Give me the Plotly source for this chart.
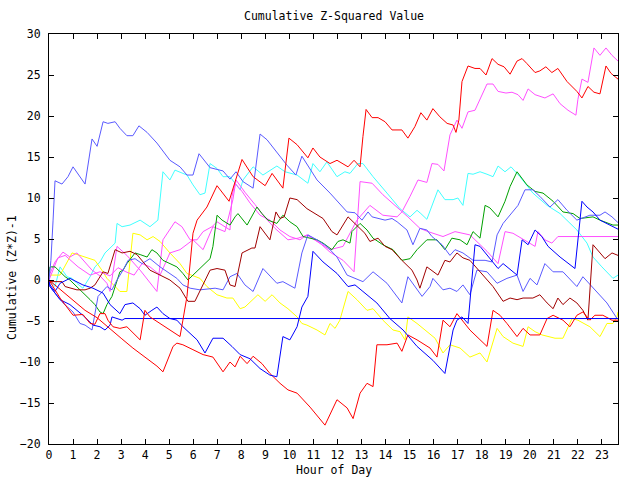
import plotly.graph_objects as go

# ---- data: (hour, cumulative value) pairs ----
hours = list(range(24))

red_a = [(0,0),(0.46,-2.2),(1.0,-4.3),(1.41,-4.2),(1.71,-5.3),(1.91,-5.4),(2.12,-4.1),(2.33,-4.1),(2.45,-4.9),(2.66,-5.7),(2.95,-5.9),(3.24,-5.7),(3.79,-7.3),(3.99,-3.7),(4.2,-4.5),(4.62,-5.3),(5.03,-6.1),(5.45,-6.9),(5.57,-4.9),(5.74,-2.0),(5.99,5.7),(6.16,7.3),(6.57,8.9),(6.99,11.5),(7.49,9.6),(7.95,14.1),(8.03,14.7),(8.49,12.6),(8.99,11.5),(9.28,13.0),(9.73,11.2),(9.98,17.3),(10.32,16.5),(10.77,14.9),(10.98,16.1),(11.27,15.0),(11.69,14.2),(11.98,14.6),(12.44,13.8),(12.69,14.6),(12.94,13.8),(13.06,17.5),(13.19,20.8),(13.44,19.8),(13.69,19.8),(13.98,19.3),(14.27,18.3),(14.68,18.3),(14.93,17.3),(15.22,18.7),(15.47,20.4),(15.72,19.5),(15.97,20.9),(16.26,19.9),(16.56,19.1),(16.81,18.9),(16.93,18.0),(17.05,19.5),(17.18,24.2),(17.43,26.1),(17.72,25.8),(17.93,25.8),(18.18,25.0),(18.43,27.0),(18.68,26.3),(18.93,26.0),(19.18,25.1),(19.47,26.7),(19.68,27.0),(19.88,26.4),(20.22,25.3),(20.42,25.5),(20.67,26.0),(20.92,25.3),(21.17,25.8),(21.55,24.2),(21.96,23.0),(22.17,22.2),(22.42,23.6),(22.67,22.9),(22.92,22.7),(23.17,26.1),(23.38,25.2),(23.67,24.5)]

red_b = [(0,0),(0.5,-1.2),(1.0,-2.4),(1.5,-3.7),(2.0,-4.6),(2.5,-5.9),(3.0,-7.1),(3.49,-8.3),(3.99,-9.4),(4.49,-10.5),(4.74,-11.2),(5.16,-8.1),(5.32,-7.7),(5.57,-7.9),(5.99,-8.5),(6.41,-9.1),(6.82,-9.4),(7.24,-11.2),(7.53,-10.0),(7.74,-10.6),(7.95,-9.3),(8.24,-10.2),(8.49,-9.3),(8.86,-10.2),(9.19,-11.4),(9.61,-12.6),(9.94,-13.4),(10.32,-13.8),(10.86,-15.5),(11.48,-17.7),(11.98,-14.6),(12.4,-15.6),(12.65,-16.9),(12.94,-13.8),(13.23,-12.6),(13.48,-13.0),(13.64,-7.9),(14.06,-7.9),(14.48,-7.7),(14.68,-8.7),(14.93,-6.7),(15.31,-7.3),(15.85,-8.3),(16.14,-9.4),(16.39,-4.9),(16.68,-5.7),(16.97,-4.1),(17.18,-4.9),(17.51,-6.1),(18.22,-8.1),(18.47,-3.7),(18.76,-4.3),(19.05,-5.3),(19.47,-6.9),(19.72,-5.9),(20.01,-6.7),(20.42,-6.7),(20.72,-4.7),(20.97,-4.3),(21.38,-4.9),(21.67,-5.7),(21.96,-4.3),(22.21,-3.9),(22.5,-4.9),(22.71,-4.3),(23.04,-4.3),(23.42,-4.9),(23.67,-4.9)]

darkred_a = [(0,-0.2),(0.54,-0.2),(0.67,-0.8),(1.16,-1.2),(1.5,-1.2),(1.71,-1.0),(1.91,-0.6),(2.25,1.0),(2.45,0.8),(2.75,3.7),(3.04,3.3),(3.37,3.5),(3.66,3.1),(4.2,1.2),(4.62,0.6),(5.03,0.0),(5.45,-1.0),(5.78,-2.6),(6.07,-2.6),(6.41,-0.6),(6.7,1.2),(6.99,1.4),(7.32,1.2),(7.53,-0.6),(7.74,-0.8),(8.03,3.3),(8.44,3.9),(8.57,3.9),(8.78,6.5),(9.19,4.9),(9.44,8.3),(9.61,7.5),(9.78,7.7),(10.02,10.0),(10.32,9.8),(10.73,8.7),(11.15,7.9),(11.4,7.5),(11.77,5.9),(11.98,5.5),(12.44,7.7),(12.81,6.7),(13.14,5.7),(13.35,4.7),(13.69,5.1),(13.98,4.1),(14.27,3.7),(14.68,2.4),(15.1,1.2),(15.31,0.0),(15.43,-1.0),(15.72,1.6),(15.97,1.0),(16.18,0.6),(16.47,2.4),(16.68,2.2),(16.97,3.3),(17.22,2.7),(17.51,2.4),(17.8,1.4),(18.14,0.2),(18.47,-0.8),(18.89,-2.6),(19.18,-2.2),(19.47,-2.4),(19.72,-2.2),(20.13,-2.2),(20.42,-1.8),(20.72,-2.8),(20.97,-3.5),(21.17,-2.2),(21.38,-3.0),(21.67,-2.2),(21.96,-2.8),(22.21,-3.7),(22.42,-4.9),(22.63,4.3),(22.8,3.7),(23.13,2.6),(23.42,3.3),(23.67,3.0)]

magenta_a = [(0,0.5),(0.25,2.2),(0.58,3.4),(0.87,2.8),(1.16,3.3),(1.5,2.2),(1.79,1.2),(2.12,0.5),(2.41,-0.4),(2.54,-1.4),(2.83,4.1),(3.24,3.0),(3.79,1.2),(4.49,-1.4),(4.74,4.9),(5.24,7.1),(5.53,6.5),(5.87,4.9),(6.16,4.9),(6.41,5.9),(6.78,6.5),(6.99,7.1),(7.53,6.1),(7.61,10.2),(7.74,11.8),(8.03,10.8),(8.36,9.4),(8.78,7.9),(9.19,7.3),(9.61,6.1),(10.02,5.3),(10.44,4.9),(10.73,5.5),(11.15,4.7),(11.69,3.7),(12.23,4.1),(12.81,7.3),(13.35,9.1),(13.89,7.9),(14.48,7.7),(14.68,8.3),(15.02,10.2),(15.35,12.2),(15.72,11.9),(15.93,14.2),(16.18,14.1),(16.43,13.3),(16.68,17.7),(16.97,19.5),(17.18,18.5),(17.43,20.5),(17.72,20.7),(17.93,22.0),(18.22,23.9),(18.47,23.9),(18.68,23.0),(19.01,22.8),(19.26,22.9),(19.51,22.6),(19.72,21.9),(19.93,23.3),(20.22,22.6),(20.63,22.2),(20.97,22.7),(21.26,21.5),(21.59,20.7),(21.92,20.1),(22.0,22.0),(22.17,24.5),(22.42,24.1),(22.67,28.3),(22.92,27.4),(23.17,28.3),(23.42,27.4),(23.67,26.7)]

magenta_b = [(0,0),(0.37,2.7),(0.67,3.0),(1.21,1.6),(1.71,0.6),(2.12,1.0),(2.54,0.5),(2.87,1.5),(3.2,1.0),(3.54,0.6),(3.87,2.0),(4.2,1.6),(4.62,0.6),(5.03,3.3),(5.45,3.7),(5.99,4.9),(6.41,3.7),(6.82,6.5),(7.32,5.9),(7.65,9.8),(7.78,12.2),(8.15,10.7),(8.57,9.2),(8.99,7.6),(9.4,6.3),(9.94,4.9),(10.36,5.1),(10.77,5.5),(11.27,4.5),(11.69,3.4),(12.23,2.4),(12.69,1.0),(12.94,12.0),(13.44,11.8),(13.89,10.4),(14.48,8.9),(14.93,7.7),(15.43,6.3),(15.77,5.9),(16.39,5.3),(16.89,5.9),(17.51,5.5),(18.22,3.5),(18.68,2.0),(18.97,5.9),(19.3,5.7),(20.01,4.5),(20.22,4.1),(20.34,5.9),(20.63,4.9),(20.92,4.5),(21.17,5.3),(23.67,5.3)]

slate_a = [(0,0),(0.08,2.4),(0.17,7.3),(0.25,12.1),(0.54,11.7),(0.79,12.6),(1.0,13.8),(1.21,12.9),(1.5,11.7),(1.79,17.2),(2.0,16.3),(2.25,19.3),(2.45,19.1),(2.75,19.3),(2.95,18.5),(3.24,17.6),(3.49,17.6),(3.74,18.8),(4.08,18.0),(4.49,16.7),(5.03,14.6),(5.45,13.8),(5.74,12.8),(5.99,12.8),(6.24,15.4),(6.7,13.7),(7.24,13.3),(7.53,12.3),(7.78,13.2),(8.07,12.0),(8.49,11.2),(8.78,17.8),(9.07,17.1),(9.9,14.0),(10.27,12.8),(10.52,15.1),(11.15,12.2),(11.69,10.6),(12.4,8.3),(12.73,8.2),(13.02,7.3),(13.27,8.3),(13.44,7.7),(13.98,7.3),(14.27,7.5),(14.48,7.1),(14.89,6.1),(15.14,4.3),(15.43,6.3),(15.72,6.1),(15.93,5.3),(16.35,4.3),(16.68,3.0),(16.89,3.7),(17.22,3.3),(17.64,2.4),(18.14,2.4),(18.43,2.2),(18.64,5.5),(18.89,6.9),(19.18,7.9),(19.51,9.1),(19.8,11.0),(20.13,11.0),(20.42,10.2),(20.84,8.9),(21.17,9.8),(21.55,8.5),(21.96,7.3),(22.5,7.9),(22.92,7.9),(23.13,8.3),(23.42,7.7),(23.67,7.0)]

slate_b = [(0,0),(0.04,-0.8),(0.58,-2.8),(1.0,-3.9),(1.29,-5.3),(1.5,-5.5),(1.79,-6.1),(1.91,-4.1),(2.04,-2.0),(2.41,-0.8),(2.62,-1.2),(2.83,0.0),(3.08,1.2),(3.29,2.4),(3.58,2.6),(3.87,2.0),(4.2,2.6),(4.62,1.6),(5.03,0.8),(5.32,0.2),(5.57,-0.6),(5.87,-1.0),(6.28,-1.2),(6.91,-1.0),(7.24,-1.2),(7.53,0.4),(7.82,0.8),(8.15,-0.6),(8.49,-1.4),(8.9,1.4),(9.48,-0.4),(9.73,-0.2),(10.23,-1.0),(10.52,3.3),(10.77,5.5),(11.15,4.9),(11.56,4.1),(11.98,2.8),(12.4,0.6),(13.06,-0.2),(13.48,1.0),(14.06,-0.4),(14.68,-2.8),(14.93,0.4),(15.52,-2.0),(15.85,-0.8),(15.97,0.2),(16.39,-1.2),(16.68,-1.0),(16.97,-1.4),(17.22,-0.6),(17.51,-1.8),(17.8,1.2),(18.22,1.0),(18.64,-0.4),(19.05,0.2),(19.47,0.6),(19.72,-1.4),(20.01,0.2),(20.3,-0.6),(20.63,2.0),(20.97,1.0),(21.38,1.0),(21.96,-0.8),(22.21,0.4),(22.63,-1.0),(23.21,-2.8),(23.63,-4.7)]

blue_flat = [(0,0),(0.04,-0.8),(0.46,-2.4),(0.87,-3.0),(1.41,-4.3),(1.83,-5.5),(2.12,-5.7),(2.33,-6.1),(2.54,-5.5),(2.62,-4.5),(3.04,-4.9),(3.16,-4.7),(23.67,-4.7)]

blue_b = [(0,0),(0.04,-0.6),(0.25,-1.4),(0.46,-0.4),(0.87,0.2),(1.41,-0.6),(1.83,-1.0),(2.25,-1.6),(2.54,-3.0),(2.75,-3.6),(2.95,-4.1),(3.16,-3.0),(3.49,-2.8),(3.79,-3.5),(3.99,-4.3),(4.28,-3.7),(4.49,-3.3),(4.74,-4.1),(5.03,-4.7),(5.32,-4.9),(5.57,-5.7),(6.16,-7.3),(6.49,-8.9),(6.82,-7.1),(7.24,-7.1),(7.61,-8.1),(7.95,-9.1),(8.36,-9.6),(8.78,-10.8),(9.19,-11.6),(9.48,-11.8),(9.73,-6.9),(10.02,-7.3),(10.32,-5.7),(10.52,-3.3),(10.77,-2.0),(10.98,3.5),(11.4,2.2),(11.98,0.8),(12.44,-0.8),(12.73,-0.6),(13.06,-1.4),(13.64,-2.8),(14.18,-4.7),(14.73,-6.1),(15.31,-8.1),(15.85,-9.4),(15.97,-9.8),(16.47,-11.4),(16.68,-8.1),(16.81,-6.1),(16.97,-4.9),(17.18,-4.5),(17.43,-5.3),(17.6,0.0),(17.72,4.3),(17.93,4.1),(18.68,1.4),(18.89,2.0),(19.47,0.6),(19.68,4.9),(19.93,4.3),(20.22,6.1),(20.5,5.3),(20.76,4.1),(21.26,2.8),(21.88,1.4),(22.09,7.3),(22.17,9.6),(22.38,8.9),(22.63,8.3),(22.92,7.3),(23.34,6.7),(23.67,6.2)]

cyan_a = [(0,0),(0.25,-0.8),(0.46,1.6),(0.75,0.4),(0.96,0.2),(1.16,-0.4),(1.41,-1.0),(1.71,0.4),(1.91,1.6),(2.12,2.2),(2.33,3.3),(2.54,3.9),(2.75,4.5),(2.83,6.9),(3.04,6.5),(3.37,6.7),(3.79,7.3),(4.2,6.5),(4.53,7.3),(4.74,13.2),(5.03,12.2),(5.24,13.4),(5.74,12.8),(5.99,11.6),(6.28,10.4),(6.49,10.6),(6.7,14.2),(6.99,13.6),(7.24,12.6),(7.53,12.6),(7.82,11.4),(7.95,11.0),(8.07,12.2),(8.49,13.8),(8.9,12.8),(9.48,13.9),(9.82,13.2),(10.32,12.8),(10.77,11.8),(10.98,14.2),(11.27,13.2),(11.56,14.4),(11.98,12.6),(12.31,13.2),(12.52,13.0),(12.85,14.2),(13.06,14.2),(13.48,12.6),(14.06,10.6),(14.6,8.7),(15.02,7.7),(15.31,8.5),(15.47,8.1),(15.72,7.4),(16.18,11.0),(16.47,9.8),(16.81,9.8),(17.01,10.0),(17.22,9.1),(17.43,13.0),(17.64,12.9),(17.93,13.2),(18.22,12.9),(18.47,12.6),(18.68,13.9),(18.97,13.2),(19.22,13.8),(19.59,12.6),(20.13,10.6),(20.72,9.1),(21.26,8.1),(21.55,7.3),(21.96,6.1),(22.38,4.5),(22.63,2.8),(23.0,1.6),(23.46,0.2),(23.67,0.6)]

green_a = [(0,0.6),(0.04,1.6),(0.25,1.6),(0.46,1.0),(0.67,0.4),(0.87,0.0),(1.16,-0.8),(1.41,-1.6),(1.71,-2.4),(1.91,-3.0),(2.12,-3.9),(2.25,-4.1),(2.41,-3.0),(2.62,-2.0),(2.75,-0.8),(2.95,1.0),(3.08,1.2),(3.24,2.0),(3.45,2.8),(3.58,3.3),(3.79,3.1),(4.08,2.8),(4.28,3.7),(4.49,3.3),(4.74,2.4),(5.03,2.0),(5.32,1.6),(5.57,0.8),(5.78,0.0),(5.99,0.6),(6.28,1.4),(6.7,2.6),(6.82,4.1),(6.99,7.9),(7.2,7.3),(7.53,6.7),(7.74,7.7),(7.86,8.1),(8.24,6.7),(8.65,8.9),(8.86,8.1),(9.11,7.3),(9.48,6.9),(9.73,7.9),(10.02,7.1),(10.32,6.5),(10.57,5.3),(10.86,5.1),(11.15,4.9),(11.4,4.5),(11.77,3.7),(12.02,4.7),(12.23,4.9),(12.52,4.5),(12.6,5.9),(12.94,6.9),(13.23,6.1),(13.48,5.1),(13.89,4.3),(14.31,3.7),(14.68,2.4),(15.02,2.6),(15.31,3.7),(15.72,4.9),(16.14,4.9),(16.47,3.7),(16.76,5.1),(17.1,4.9),(17.39,4.3),(17.64,5.9),(17.93,5.1),(18.14,9.1),(18.34,8.8),(18.68,7.7),(18.97,9.6),(19.18,11.4),(19.47,13.2),(19.88,11.6),(20.22,10.8),(20.55,10.6),(20.97,9.6),(21.38,8.3),(21.8,8.1),(22.09,7.5),(22.63,7.7),(22.92,7.3),(23.46,6.7),(23.67,6.7)]

yellow_a = [(0,0.4),(0.04,0.6),(0.46,0.6),(0.96,3.3),(1.29,3.0),(1.71,2.6),(1.91,2.4),(2.2,1.2),(2.41,0.2),(2.75,-0.8),(2.95,-1.4),(3.24,-1.4),(3.49,5.7),(3.79,5.5),(4.08,4.9),(4.33,5.3),(4.62,4.7),(5.03,3.3),(5.45,2.0),(5.74,0.8),(6.28,0.2),(6.57,-0.8),(6.99,-1.8),(7.4,-2.2),(7.65,-2.2),(7.95,-3.5),(8.15,-3.3),(8.69,-1.8),(8.99,-2.6),(9.28,-1.8),(9.61,-2.8),(9.94,-3.5),(10.32,-4.5),(10.52,-5.3),(10.73,-5.5),(11.15,-6.1),(11.48,-6.7),(11.69,-5.3),(11.9,-5.9),(12.1,-4.9),(12.44,-1.4),(12.81,-2.4),(13.23,-3.7),(13.48,-3.5),(13.89,-4.9),(14.31,-6.1),(14.6,-6.3),(14.81,-7.3),(14.93,-4.5),(15.31,-5.3),(15.72,-6.3),(16.06,-7.1),(16.39,-8.9),(16.68,-7.9),(17.1,-8.3),(17.51,-9.4),(17.93,-8.9),(18.22,-10.0),(18.64,-5.9),(18.89,-6.9),(19.3,-7.7),(19.72,-8.1),(19.93,-5.7),(20.22,-6.3),(20.51,-6.7),(20.76,-6.9),(21.05,-7.1),(21.38,-7.1),(21.76,-4.7),(22.0,-4.9),(22.5,-5.7),(22.92,-6.9),(23.21,-5.3),(23.46,-5.3),(23.63,-4.5),(23.67,-3.9)]

series = [
    (cyan_a, "#40ffff"),
    (yellow_a, "#ffff00"),
    (magenta_b, "#ff50ff"),
    (magenta_a, "#ff50ff"),
    (green_a, "#00a000"),
    (slate_a, "#5a5aff"),
    (slate_b, "#5a5aff"),
    (darkred_a, "#a00000"),
    (red_b, "#ff0000"),
    (blue_b, "#0000ff"),
    (blue_flat, "#0000ff"),
    (red_a, "#ff0000"),
]

FONT = "DejaVu Sans Mono"

fig = go.Figure()
for pts, col in series:
    fig.add_trace(go.Scatter(
        x=[p[0] for p in pts], y=[p[1] for p in pts],
        mode="lines", line=dict(color=col, width=1), showlegend=False,
        hoverinfo="skip"))

axis_common = dict(
    showline=True, linecolor="black", linewidth=1, mirror="allticks",
    ticks="inside", ticklen=5, tickcolor="black", tickwidth=1,
    showgrid=False, zeroline=False,
    tickfont=dict(family=FONT, size=11.5, color="black"),
)

fig.update_layout(
    width=640, height=480, autosize=False,
    margin=dict(l=49, r=22, t=34, b=36, pad=0),
    paper_bgcolor="white", plot_bgcolor="white",
    font=dict(family=FONT, size=11.5, color="black"),
    xaxis=dict(range=[0, 23.67], tickvals=hours, ticktext=[str(h) for h in hours], **axis_common),
    yaxis=dict(range=[-20, 30], tick0=0, dtick=5, ticklabelstandoff=5, **axis_common),
    annotations=[
        dict(text="Cumulative Z-Squared Value", xref="paper", yref="paper",
             x=0.5, y=1.044, xanchor="center", yanchor="middle", showarrow=False,
             font=dict(family=FONT, size=11.5)),
        dict(text="Hour of Day", xref="paper", yref="paper",
             x=0.5, y=-0.063, xanchor="center", yanchor="middle", showarrow=False,
             font=dict(family=FONT, size=11.5)),
        dict(text="Cumulative (Z*Z)-1", xref="paper", yref="paper",
             x=-0.065, y=0.405, xanchor="center", yanchor="middle", showarrow=False,
             textangle=-90, font=dict(family=FONT, size=11.5)),
    ],
)

fig.write_html("out.html")
